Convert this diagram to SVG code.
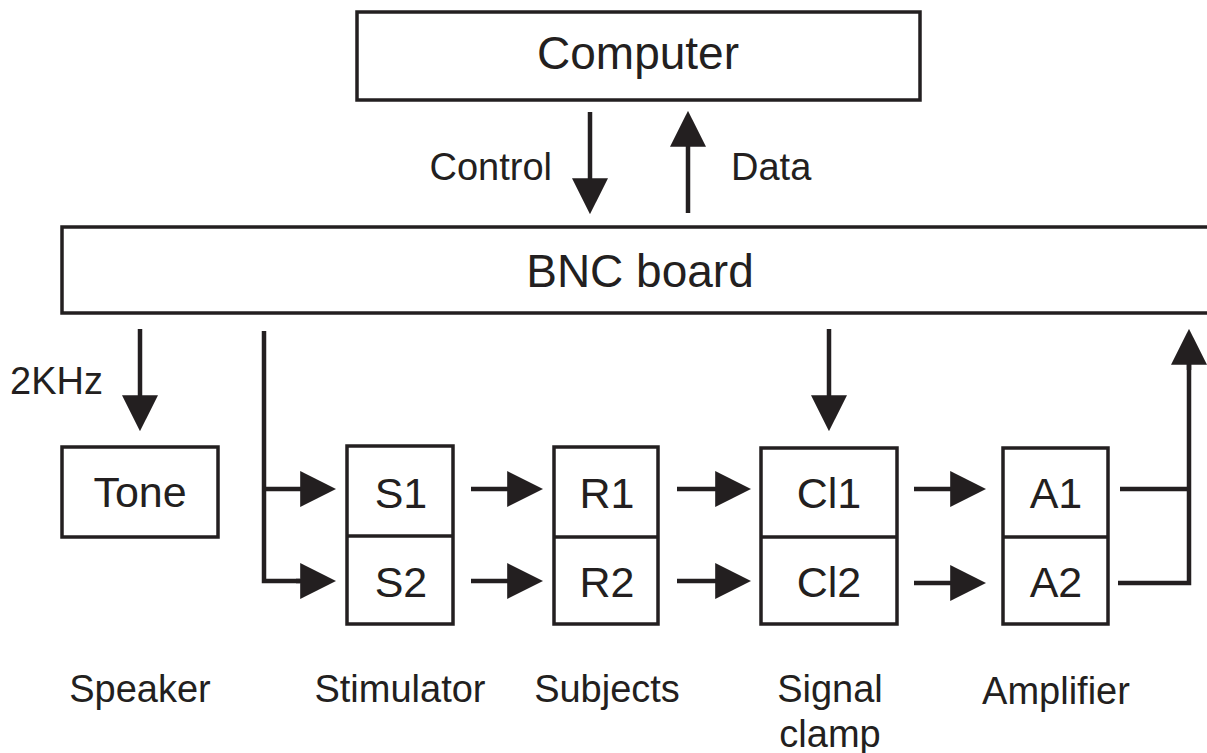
<svg xmlns="http://www.w3.org/2000/svg" width="1207" height="753" viewBox="0 0 1207 753">
<style>
.box{fill:#fff;stroke:#231f20;stroke-width:3.5}
.div{stroke:#231f20;stroke-width:3.5}
.con{fill:none;stroke:#231f20;stroke-width:4.5;stroke-linejoin:miter}
.arr{marker-end:url(#ah)}
text{font-family:"Liberation Sans",Arial,sans-serif;fill:#231f20}
.big{font-size:46px;text-anchor:middle}
.in{font-size:43px;text-anchor:middle}
.lab{font-size:38px}
.mid{text-anchor:middle}
</style>
<defs>
<marker id="ah" markerUnits="userSpaceOnUse" markerWidth="36" markerHeight="36" viewBox="0 0 34 34" refX="14" refY="17" orient="auto">
<path d="M0,0 L34,17 L0,34 Z" fill="#231f20"/>
</marker>
</defs>
<rect width="1207" height="753" fill="#fff"/>

<g id="computer">
<rect class="box" x="357" y="12" width="563" height="88"/>
<text class="big" x="638" y="69">Computer</text>
</g>

<g id="bnc">
<rect class="box" x="62" y="227" width="1160" height="86"/>
<text class="big" x="640" y="287">BNC board</text>
</g>

<g id="tone">
<rect class="box" x="62" y="447" width="156" height="90"/>
<text class="in" x="140" y="507">Tone</text>
</g>

<g id="stimulator">
<rect class="box" x="347" y="446" width="106" height="178"/>
<line class="div" x1="347" y1="536" x2="453" y2="536"/>
<text class="in" x="401" y="508">S1</text>
<text class="in" x="401" y="597">S2</text>
</g>

<g id="subjects">
<rect class="box" x="554" y="447" width="104" height="177"/>
<line class="div" x1="554" y1="537" x2="658" y2="537"/>
<text class="in" x="607" y="508">R1</text>
<text class="in" x="607" y="597">R2</text>
</g>

<g id="clamp">
<rect class="box" x="761" y="448" width="136" height="176"/>
<line class="div" x1="761" y1="537" x2="897" y2="537"/>
<text class="in" x="829" y="508">Cl1</text>
<text class="in" x="829" y="597">Cl2</text>
</g>

<g id="amplifier">
<rect class="box" x="1003" y="448" width="105" height="176"/>
<line class="div" x1="1003" y1="537" x2="1108" y2="537"/>
<text class="in" x="1056" y="508">A1</text>
<text class="in" x="1056" y="597">A2</text>
</g>

<g id="connectors">
<line class="con arr" x1="590" y1="112" x2="590" y2="193"/>
<line class="con arr" x1="688" y1="213" x2="688" y2="132"/>
<line class="con arr" x1="140" y1="329" x2="140" y2="410"/>
<line class="con arr" x1="829" y1="329" x2="829" y2="410"/>
<polyline class="con" points="264,331 264,581 300,581"/>
<line class="con arr" x1="262" y1="489" x2="315" y2="489"/>
<line class="con arr" x1="296" y1="581" x2="315" y2="581"/>
<line class="con arr" x1="471" y1="489" x2="522" y2="489"/>
<line class="con arr" x1="471" y1="581" x2="522" y2="581"/>
<line class="con arr" x1="677" y1="489" x2="730" y2="489"/>
<line class="con arr" x1="677" y1="581" x2="730" y2="581"/>
<line class="con arr" x1="914" y1="489" x2="965" y2="489"/>
<line class="con arr" x1="914" y1="583" x2="965" y2="583"/>
<line class="con" x1="1120" y1="489" x2="1189" y2="489"/>
<polyline class="con" points="1118,583 1189,583 1189,360"/>
<line class="con arr" x1="1189" y1="370" x2="1189" y2="350"/>
</g>

<g id="labels">
<text class="lab" x="552" y="180" text-anchor="end">Control</text>
<text class="lab" x="731" y="180">Data</text>
<text class="lab" x="10" y="394">2KHz</text>
<text class="lab mid" x="140" y="702">Speaker</text>
<text class="lab mid" x="400" y="702">Stimulator</text>
<text class="lab mid" x="607" y="702">Subjects</text>
<text class="lab mid" x="830" y="702">Signal</text>
<text class="lab mid" x="830" y="747">clamp</text>
<text class="lab mid" x="1056" y="704">Amplifier</text>
</g>
</svg>
